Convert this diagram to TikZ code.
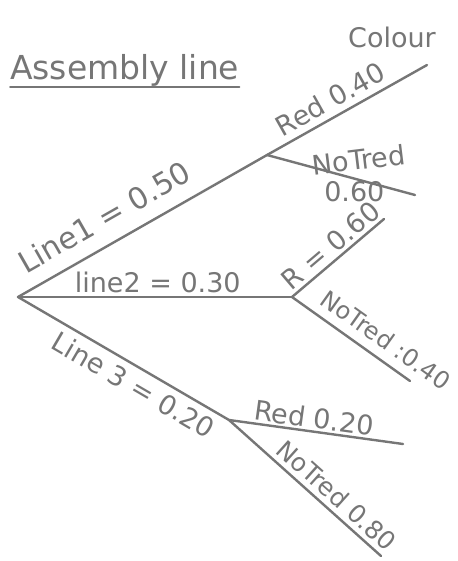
\documentclass[tikz,border=0pt]{standalone}
\usepackage{fontspec}
\setmainfont{DejaVu Sans}
\definecolor{ink}{RGB}{118,118,118}
\begin{document}
\begin{tikzpicture}[x=1pt,y=-1pt,
  branch/.style={draw=ink, line width=2.4pt, line cap=round},
  lbl/.style={text=ink, font=\fontsize{27}{27}\selectfont, inner sep=0pt}]
\useasboundingbox[fill=white] (0,0) rectangle (457,561);
\coordinate (root) at (18,297);
\coordinate (n1) at (267,155);
\coordinate (n2) at (292,297);
\coordinate (n3) at (229,420);
\coordinate (r1) at (427,65);
\coordinate (q1) at (415,195);
\coordinate (r2) at (384,219);
\coordinate (q2) at (410,381);
\coordinate (r3) at (403,444);
\coordinate (q3) at (381,556);

\node[lbl, font=\fontsize{33}{33}\selectfont, anchor=base west] (title) at (10,80) {Assembly line};
\draw[ink, line width=1.8pt, line cap=round] ([yshift=-7pt]title.base west) -- ([yshift=-7pt]title.base east);
\node[lbl, anchor=base] (colour) at (392,48) {Colour};

\draw[branch] (root) -- node[lbl, sloped, above=14pt, pos=0.40, font=\fontsize{30}{30}\selectfont] (l1) {Line1 = 0.50} (n1);
\draw[branch] (root) -- node[lbl, above=3pt, pos=0.51] (l2) {line2 = 0.30} (n2);
\draw[branch] (root) -- node[lbl, sloped, below=6pt, pos=0.59] (l3) {Line 3 = 0.20} (n3);
\draw[branch] (n1) -- node[lbl, sloped, above=6pt, pos=0.45] (lr1) {Red 0.40} (r1);
\draw[branch] (n1) -- node[lbl, above=9pt, pos=0.63, rotate=7] (lq1) {NoTred}
                     node[lbl, below=2pt, pos=0.59] (lq1b) {0.60} (q1);
\draw[branch] (n2) -- node[lbl, sloped, above=3pt, pos=0.52] (lr2) {R = 0.60} (r2);
\draw[branch] (n2) -- node[lbl, sloped, above=9pt, pos=0.70, font=\fontsize{24}{24}\selectfont] (lq2) {NoTred :0.40} (q2);
\draw[branch] (n3) -- node[lbl, sloped, above=2pt, pos=0.48] (lr3) {Red 0.20} (r3);
\draw[branch] (n3) -- node[lbl, sloped, above=5pt, pos=0.64, font=\fontsize{25}{25}\selectfont] (lq3) {NoTred 0.80} (q3);
\end{tikzpicture}
\end{document}
